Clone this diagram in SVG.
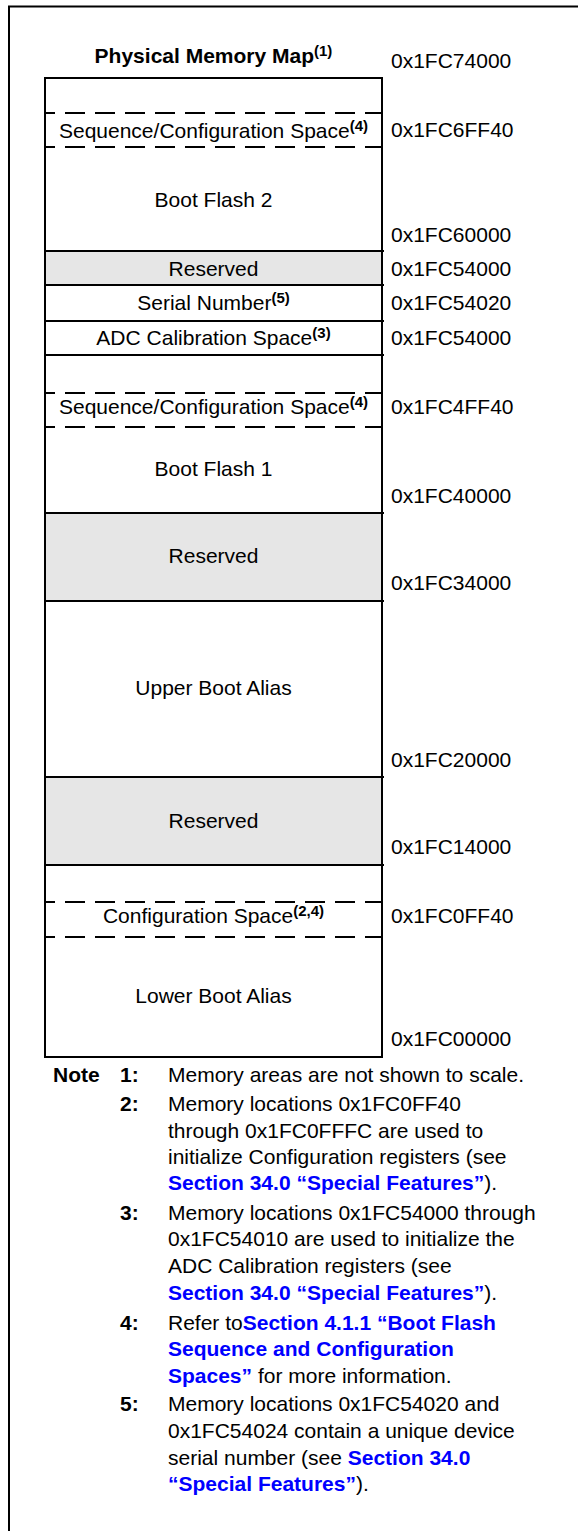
<svg xmlns="http://www.w3.org/2000/svg" width="578" height="1531" viewBox="0 0 578 1531">
<style>
  text { font-family: "Liberation Sans", Arial, sans-serif; font-size: 21px; fill: #000; }
  .c { text-anchor: middle; }
  .b { font-weight: bold; }
  .sup { font-size: 15px; font-weight: bold; }
  .lnk { font-weight: bold; fill: #0000ff; }
  .sep { stroke: #000; stroke-width: 2; fill: none; }
  .dash { stroke: #000; stroke-width: 2; fill: none; stroke-dasharray: 20 10; stroke-dashoffset: 10; }
  .grey { fill: #e6e6e6; }
  .frame { stroke: #000; stroke-width: 2; fill: none; }
</style>
<rect x="0" y="0" width="578" height="1531" fill="#fff"/>
<path class="frame" d="M9,1531 V6.5 H578"/>

<g id="title">
  <text class="c b" x="213.5" y="63">Physical Memory Map<tspan class="sup" dy="-7">(1)</tspan></text>
</g>

<g id="fills">
  <rect class="grey" x="45" y="251" width="337" height="34"/>
  <rect class="grey" x="45" y="513" width="337" height="88"/>
  <rect class="grey" x="45" y="777" width="337" height="88"/>
</g>

<g id="boot-flash-2">
  <line class="dash" x1="45" y1="113" x2="383" y2="113"/>
  <line class="dash" x1="45" y1="147" x2="383" y2="147"/>
  <text class="c" x="213.5" y="137.5">Sequence/Configuration Space<tspan class="sup" dy="-7">(4)</tspan></text>
  <text class="c" x="213.5" y="207">Boot Flash 2</text>
</g>

<g id="reserved-1">
  <text class="c" x="213.5" y="276">Reserved</text>
</g>

<g id="serial-number">
  <text class="c" x="213.5" y="310">Serial Number<tspan class="sup" dy="-7">(5)</tspan></text>
</g>

<g id="adc-calibration">
  <text class="c" x="213.5" y="345">ADC Calibration Space<tspan class="sup" dy="-7">(3)</tspan></text>
</g>

<g id="boot-flash-1">
  <line class="dash" x1="45" y1="393" x2="383" y2="393"/>
  <line class="dash" x1="45" y1="427" x2="383" y2="427"/>
  <text class="c" x="213.5" y="414">Sequence/Configuration Space<tspan class="sup" dy="-7">(4)</tspan></text>
  <text class="c" x="213.5" y="476">Boot Flash 1</text>
</g>

<g id="reserved-2">
  <text class="c" x="213.5" y="563">Reserved</text>
</g>

<g id="upper-boot-alias">
  <text class="c" x="213.5" y="695">Upper Boot Alias</text>
</g>

<g id="reserved-3">
  <text class="c" x="213.5" y="828">Reserved</text>
</g>

<g id="lower-boot-alias">
  <line class="dash" x1="45" y1="902" x2="383" y2="902"/>
  <line class="dash" x1="45" y1="937" x2="383" y2="937"/>
  <text class="c" x="213.5" y="923">Configuration Space<tspan class="sup" dy="-7">(2,4)</tspan></text>
  <text class="c" x="213.5" y="1003">Lower Boot Alias</text>
</g>

<g id="box-lines">
  <rect class="sep" x="45" y="78" width="337" height="979"/>
  <line class="sep" x1="45" y1="251" x2="384" y2="251"/>
  <line class="sep" x1="45" y1="285" x2="384" y2="285"/>
  <line class="sep" x1="45" y1="321" x2="384" y2="321"/>
  <line class="sep" x1="45" y1="355" x2="384" y2="355"/>
  <line class="sep" x1="45" y1="513" x2="384" y2="513"/>
  <line class="sep" x1="45" y1="601" x2="384" y2="601"/>
  <line class="sep" x1="45" y1="777" x2="384" y2="777"/>
  <line class="sep" x1="45" y1="865" x2="384" y2="865"/>
</g>

<g id="addresses">
  <text x="391" y="68">0x1FC74000</text>
  <text x="391" y="137">0x1FC6FF40</text>
  <text x="391" y="242">0x1FC60000</text>
  <text x="391" y="276">0x1FC54000</text>
  <text x="391" y="310">0x1FC54020</text>
  <text x="391" y="345">0x1FC54000</text>
  <text x="391" y="414">0x1FC4FF40</text>
  <text x="391" y="503">0x1FC40000</text>
  <text x="391" y="590">0x1FC34000</text>
  <text x="391" y="767">0x1FC20000</text>
  <text x="391" y="854">0x1FC14000</text>
  <text x="391" y="923">0x1FC0FF40</text>
  <text x="391" y="1046">0x1FC00000</text>
</g>

<g id="notes">
  <text class="b" x="53" y="1082">Note</text>
  <text class="b" x="120" y="1082">1:</text>
  <text x="168" y="1082">Memory areas are not shown to scale.</text>

  <text class="b" x="120" y="1111">2:</text>
  <text x="168" y="1111">Memory locations 0x1FC0FF40</text>
  <text x="168" y="1137.5">through 0x1FC0FFFC are used to</text>
  <text x="168" y="1163.5">initialize Configuration registers (see</text>
  <text x="168" y="1190"><tspan class="lnk">Section 34.0 “Special Features”</tspan>).</text>

  <text class="b" x="120" y="1220">3:</text>
  <text x="168" y="1220">Memory locations 0x1FC54000 through</text>
  <text x="168" y="1246">0x1FC54010 are used to initialize the</text>
  <text x="168" y="1273">ADC Calibration registers (see</text>
  <text x="168" y="1299.5"><tspan class="lnk">Section 34.0 “Special Features”</tspan>).</text>

  <text class="b" x="120" y="1329.5">4:</text>
  <text x="168" y="1329.5">Refer to<tspan class="lnk">Section 4.1.1 “Boot Flash</tspan></text>
  <text x="168" y="1356"><tspan class="lnk">Sequence and Configuration</tspan></text>
  <text x="168" y="1383"><tspan class="lnk">Spaces”</tspan> for more information.</text>

  <text class="b" x="120" y="1411">5:</text>
  <text x="168" y="1411">Memory locations 0x1FC54020 and</text>
  <text x="168" y="1438">0x1FC54024 contain a unique device</text>
  <text x="168" y="1464.5">serial number (see <tspan class="lnk">Section 34.0</tspan></text>
  <text x="168" y="1491"><tspan class="lnk">“Special Features”</tspan>).</text>
</g>
</svg>
